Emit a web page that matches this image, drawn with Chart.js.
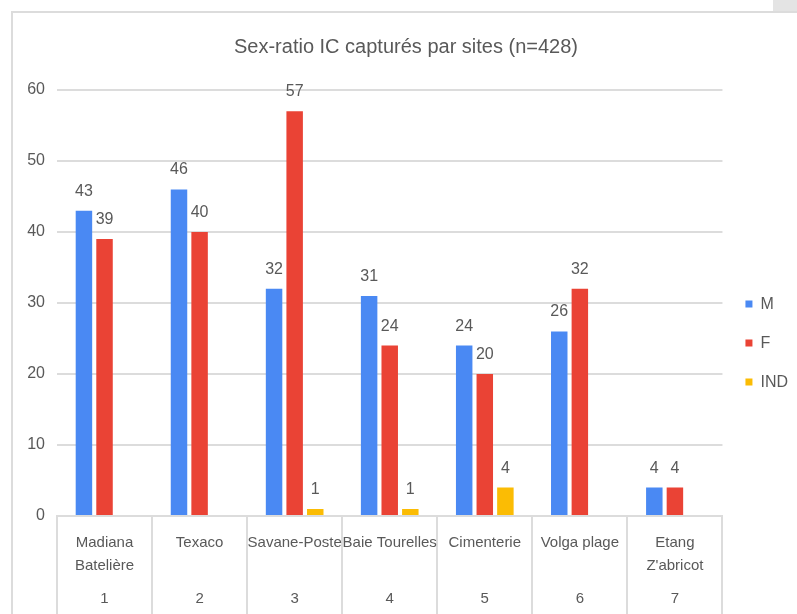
<!DOCTYPE html>
<html>
<head>
<meta charset="utf-8">
<script src="https://cdn.jsdelivr.net/npm/chart.js@4"></script>
<style>
  html, body { margin: 0; padding: 0; background: #fff; overflow: hidden; }
  body { width: 797px; height: 614px; position: relative; }
  .corner { position: absolute; left: 773px; top: 0; width: 24px; height: 11px; background: #e4e4e4; }
  .frame { position: absolute; left: 11px; top: 11px; width: 800px; height: 620px;
           border-left: 2px solid #dcdcdc; border-top: 2px solid #dcdcdc; }
  .box { position: absolute; left: 14px; top: 14px; width: 795px; height: 600px; }
</style>
</head>
<body>
<div class="corner"></div>
<div class="frame"></div>
<div class="box"><canvas id="sexRatio" width="795" height="600"></canvas></div>
<script>
let sites = [["Madiana", "Batelière"], "Texaco", "Savane-Poste", "Baie Tourelles", "Cimenterie", "Volga plage", ["Etang", "Z'abricot"]];
let siteNums = ["1", "2", "3", "4", "5", "6", "7"];
let maleData = [43, 46, 32, 31, 24, 26, 4];
let femaleData = [39, 40, 57, 24, 20, 32, 4];
let indData = [0, 0, 1, 1, 4, 0, 0];
let yTicks = [0, 10, 20, 30, 40, 50, 60];

let grey = '#595959';
let fontName = "'Liberation Sans', Arial, sans-serif";

// valeurs au-dessus des barres (pas de plugin datalabels dispo)
let barValues = {
    id: 'barValues',
    afterDatasetsDraw(chart) {
        let ctx = chart.ctx;
        ctx.save();
        ctx.font = "16px " + fontName;
        ctx.fillStyle = grey;
        ctx.textAlign = 'center';
        ctx.textBaseline = 'alphabetic';
        chart.data.datasets.forEach(function(ds, i) {
            chart.getDatasetMeta(i).data.forEach(function(bar, j) {
                if (ds.data[j] > 0) {
                    ctx.fillText(ds.data[j], bar.x, bar.y - 15);
                }
            });
        });
        ctx.restore();
    }
};

let ctx1 = document.getElementById('sexRatio').getContext('2d');
let myChart = new Chart(ctx1, {
    type: 'bar',
    data: {
        labels: sites,
        datasets: [{
            label: 'M',
            data: maleData,
            backgroundColor: '#4a89f3'
        },
        {
            label: 'F',
            data: femaleData,
            backgroundColor: '#ea4335'
        },
        {
            label: 'IND',
            data: indData,
            backgroundColor: '#fbbc04'
        }]
    },
    options: {
        responsive: false,
        maintainAspectRatio: false,
        animation: false,
        categoryPercentage: 0.65,
        barPercentage: 0.8,
        layout: { padding: { left: 0, top: 0, bottom: 0, right: 11 } },
        plugins: {
            tooltip: { enabled: false },
            title: {
                display: true,
                text: 'Sex-ratio IC capturés par sites (n=428)',
                color: grey,
                font: { family: fontName, size: 20, weight: 'normal', lineHeight: 1.2 },
                padding: { top: 21, bottom: 31 }
            },
            legend: {
                position: 'right',
                title: {
                    display: true,
                    text: ' ',
                    font: { family: fontName, size: 16, lineHeight: 1.2 },
                    padding: { top: 0, bottom: 39 }
                },
                labels: {
                    color: grey,
                    boxWidth: 7,
                    boxHeight: 7,
                    padding: 23,
                    font: { family: fontName, size: 16 }
                }
            }
        },
        scales: {
            y: {
                min: 0,
                max: 60,
                afterBuildTicks: function(scale) {
                    scale.ticks = yTicks.map(function(v) { return { value: v }; });
                },
                afterFit: function(scale) { scale.width = 43; },
                grid: { color: '#dcdcdc', lineWidth: 2, drawTicks: false },
                border: { display: false },
                ticks: { color: grey, padding: 12, font: { family: fontName, size: 16 } }
            },
            x: {
                afterFit: function(scale) { scale.height = 62; },
                grid: { offset: true, drawOnChartArea: false, tickLength: 98, color: '#dcdcdc', lineWidth: 2 },
                border: { display: true, color: '#dcdcdc', width: 2 },
                ticks: { color: grey, padding: -82, maxRotation: 0, autoSkip: false,
                         font: { family: fontName, size: 15, lineHeight: 1.5 } }
            },
            x2: {
                type: 'category',
                position: 'bottom',
                labels: siteNums,
                offset: true,
                afterFit: function(scale) { scale.height = 36; },
                grid: { display: false },
                border: { display: false },
                ticks: { color: grey, padding: 4, font: { family: fontName, size: 15 } }
            }
        }
    },
    plugins: [barValues]
});
</script>
</body>
</html>
